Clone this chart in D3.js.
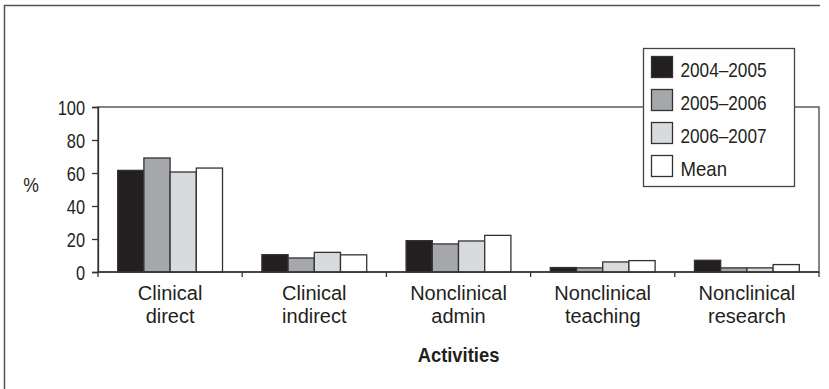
<!DOCTYPE html>
<html>
<head>
<meta charset="utf-8">
<script src="https://cdn.jsdelivr.net/npm/d3@7"></script>
<style>
  body { margin: 0; background: #fff; }
  text { font-family: "Liberation Sans", Arial, sans-serif; fill: #231f20; }
</style>
</head>
<body>
<div id="visualization"></div>
<script>
// data
var categories = [["Clinical", "direct"], ["Clinical", "indirect"], ["Nonclinical", "admin"], ["Nonclinical", "teaching"], ["Nonclinical", "research"]];
var seriesNames = ["2004\u20132005", "2005\u20132006", "2006\u20132007", "Mean"];
var s2004 = [61.6, 10.5, 19.0, 2.7, 7.1];
var s2005 = [69.1, 8.5, 17.0, 2.5, 2.5];
var s2006 = [60.6, 11.9, 18.8, 6.1, 2.5];
var sMean = [63.0, 10.4, 22.2, 6.9, 4.5];
var yTicks = [0, 20, 40, 60, 80, 100];
var colors = ["#231f20", "#a5a7aa", "#d9dadb", "#ffffff"];

var allSeries = [s2004, s2005, s2006, sMean];
var data = categories.map(function(c, i) {
  return { name: c.join(" "), lines: c, values: allSeries.map(function(s, j) { return { key: seriesNames[j], value: s[i] }; }) };
});

// the original uses a condensed face; squeeze digits horizontally
var digitSqueeze = 0.82;

var W = 829, H = 389;
var margin = { top: 107, right: 10, bottom: 117, left: 98 };
var width = 819 - margin.left, height = 272 - margin.top;

var svg = d3.select("#visualization").append("svg")
  .attr("width", W).attr("height", H);

// partial outer frame (top + left)
svg.append("path")
  .attr("d", "M4.5,389V5.5H820")
  .attr("fill", "none").attr("stroke", "#555").attr("stroke-width", 1.5);

var g = svg.append("g").attr("transform", "translate(" + margin.left + "," + margin.top + ")");

var x0 = d3.scaleBand()
  .domain(data.map(function(d) { return d.name; }))
  .range([0, width])
  .paddingInner(0.273)
  .paddingOuter(0.1365);
var x1 = d3.scaleBand()
  .domain(seriesNames)
  .range([0, x0.bandwidth()]);
var y = d3.scaleLinear().domain([0, 100]).range([height, 0]);
var color = d3.scaleOrdinal().domain(seriesNames).range(colors);

// plot box
g.append("rect")
  .attr("x", 0).attr("y", 0).attr("width", width).attr("height", height)
  .attr("fill", "none").attr("stroke", "#444").attr("stroke-width", 1.3);

// bars
g.selectAll(".grp")
  .data(data)
  .enter().append("g")
  .attr("class", "grp")
  .attr("transform", function(d) { return "translate(" + x0(d.name) + ",0)"; })
  .selectAll("rect")
  .data(function(d) { return d.values; })
  .enter().append("rect")
  .attr("x", function(d) { return x1(d.key); })
  .attr("width", x1.bandwidth())
  .attr("y", function(d) { return y(d.value); })
  .attr("height", function(d) { return height - y(d.value); })
  .attr("fill", function(d) { return color(d.key); })
  .attr("stroke", "#333")
  .attr("stroke-width", 1.3);

// y axis
var yAxis = g.append("g")
  .call(d3.axisLeft(y).tickValues(yTicks).tickSize(6).tickPadding(7));
yAxis.select(".domain").attr("stroke", "#333").attr("stroke-width", 1.3);
yAxis.selectAll(".tick line").attr("stroke", "#333").attr("stroke-width", 1.3);
yAxis.selectAll(".tick text")
  .style("font-size", "20px").attr("fill", "#231f20")
  .attr("font-family", null)
  .attr("dy", "0.36em")
  .attr("x", -13 / digitSqueeze)
  .attr("transform", "scale(" + digitSqueeze + ",1)");

// x axis: baseline plus ticks at band boundaries
g.append("line")
  .attr("x1", 0).attr("x2", width).attr("y1", height).attr("y2", height)
  .attr("stroke", "#333").attr("stroke-width", 1.3);
var step = x0.step();
var bounds = d3.range(data.length + 1).map(function(k) { return x0(data[0].name) - x0.paddingOuter() * step + k * step; });
g.selectAll(".xtick")
  .data(bounds)
  .enter().append("line")
  .attr("x1", function(d) { return d; }).attr("x2", function(d) { return d; })
  .attr("y1", height).attr("y2", height + 5)
  .attr("stroke", "#333").attr("stroke-width", 1.3);

// category labels
var lab = g.selectAll(".xlab")
  .data(data)
  .enter().append("text")
  .attr("text-anchor", "middle")
  .style("font-size", "20px")
  .attr("transform", function(d) { return "translate(" + (x0(d.name) + x0.bandwidth() / 2) + "," + (height + 28) + ")"; });
lab.selectAll("tspan")
  .data(function(d) { return d.lines; })
  .enter().append("tspan")
  .attr("x", 0)
  .attr("dy", function(d, i) { return i === 0 ? 0 : 23; })
  .text(function(d) { return d; });

// axis titles
g.append("text")
  .attr("text-anchor", "middle")
  .attr("transform", "translate(" + (width / 2) + "," + (height + 90) + ") scale(0.92,1)")
  .style("font-size", "20px").style("font-weight", "bold")
  .text("Activities");
svg.append("text")
  .attr("text-anchor", "middle")
  .attr("transform", "translate(31,192) scale(0.88,1)")
  .style("font-size", "20px")
  .text("%");

// legend
var legend = svg.append("g").attr("transform", "translate(643.5,48.5)");
legend.append("rect")
  .attr("width", 151).attr("height", 138)
  .attr("fill", "#fff").attr("stroke", "#444").attr("stroke-width", 1.3);
var li = legend.selectAll(".li")
  .data(seriesNames)
  .enter().append("g")
  .attr("transform", function(d, i) { return "translate(8," + (8 + i * 33) + ")"; });
li.append("rect")
  .attr("width", 21).attr("height", 21)
  .attr("fill", function(d) { return color(d); })
  .attr("stroke", "#333").attr("stroke-width", 1.3);
li.append("text")
  .attr("transform", function(d) { return "translate(29,20) scale(" + (/\d/.test(d) ? 0.86 : 0.93) + ",1)"; })
  .style("font-size", "20px")
  .text(function(d) { return d; });
</script>
</body>
</html>
